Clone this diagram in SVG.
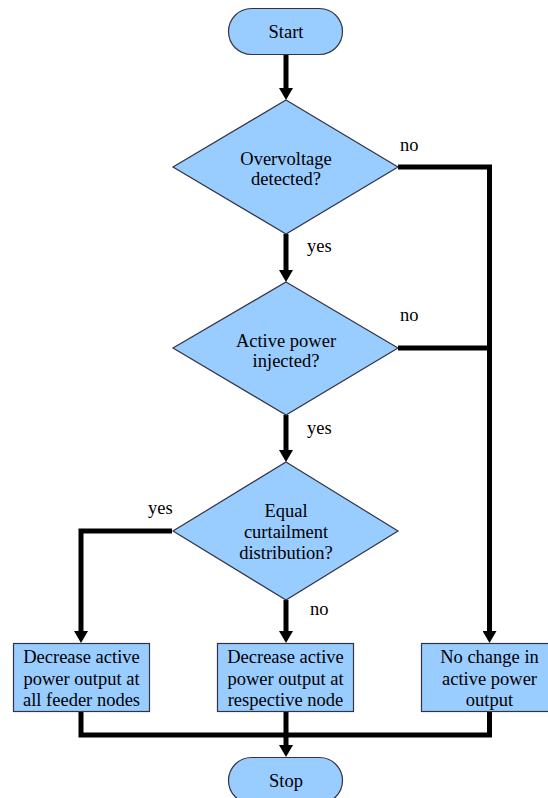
<svg xmlns="http://www.w3.org/2000/svg" width="548" height="798" viewBox="0 0 548 798">
<style>
.shape{fill:#99CCFF;stroke:#333344;stroke-width:1.2}
text{font-family:'Liberation Serif','DejaVu Serif',serif;font-size:18.5px;fill:#000}
.t{text-anchor:middle}
.c{fill:none;stroke:#000;stroke-width:5}
</style>
<defs>
<marker id="ah" markerUnits="userSpaceOnUse" markerWidth="14" markerHeight="14" refX="0" refY="7" orient="auto" viewBox="0 0 12 14">
<path d="M0,0 L12,7 L0,14 z" fill="#000"/>
</marker>
</defs>
<rect width="548" height="798" fill="#fff"/>
<g id="connectors">
<path class="c" d="M286,54 V88" marker-end="url(#ah)"/>
<path class="c" d="M286,234 V270" marker-end="url(#ah)"/>
<path class="c" d="M286,415 V450" marker-end="url(#ah)"/>
<path class="c" d="M398,167 H489.5 V631" marker-end="url(#ah)"/>
<path class="c" d="M398,348 H489.5"/>
<path class="c" d="M172,531 H81 V631" marker-end="url(#ah)"/>
<path class="c" d="M286,600 V631" marker-end="url(#ah)"/>
<path class="c" d="M81,712 V735 H489.5 V712"/>
<path class="c" d="M286,712 V745" marker-end="url(#ah)"/>
</g>
<g id="start">
<rect class="shape" x="228.5" y="8.5" width="114" height="46" rx="23"/>
<text class="t" x="286" y="38">Start</text>
</g>
<g id="d1">
<polygon class="shape" points="286,100 398,167 286,234 173,167"/>
<text class="t" x="286" y="165">Overvoltage</text>
<text class="t" x="286" y="185">detected?</text>
</g>
<g id="d2">
<polygon class="shape" points="286,282 398,348 286,415 173,348"/>
<text class="t" x="286" y="347">Active power</text>
<text class="t" x="286" y="367">injected?</text>
</g>
<g id="d3">
<polygon class="shape" points="286,462 398,531 286,600 173,531"/>
<text class="t" x="286" y="517">Equal</text>
<text class="t" x="286" y="538">curtailment</text>
<text class="t" x="286" y="559">distribution?</text>
</g>
<g id="b1">
<rect class="shape" x="13.5" y="643.5" width="136" height="68"/>
<text class="t" x="81.5" y="663">Decrease active</text>
<text class="t" x="81.5" y="685">power output at</text>
<text class="t" x="81.5" y="706">all feeder nodes</text>
</g>
<g id="b2">
<rect class="shape" x="217.5" y="643.5" width="136" height="68"/>
<text class="t" x="285.5" y="663">Decrease active</text>
<text class="t" x="285.5" y="685">power output at</text>
<text class="t" x="285.5" y="706">respective node</text>
</g>
<g id="b3">
<rect class="shape" x="421.5" y="643.5" width="136" height="68"/>
<text class="t" x="489.5" y="663">No change in</text>
<text class="t" x="489.5" y="685">active power</text>
<text class="t" x="489.5" y="706">output</text>
</g>
<g id="stop">
<rect class="shape" x="228.5" y="757.5" width="114" height="46" rx="23"/>
<text class="t" x="286" y="787">Stop</text>
</g>
<g id="labels">
<text x="400" y="151">no</text>
<text x="400" y="321">no</text>
<text x="307" y="252">yes</text>
<text x="307" y="434">yes</text>
<text x="148" y="514">yes</text>
<text x="310" y="615">no</text>
</g>
</svg>
